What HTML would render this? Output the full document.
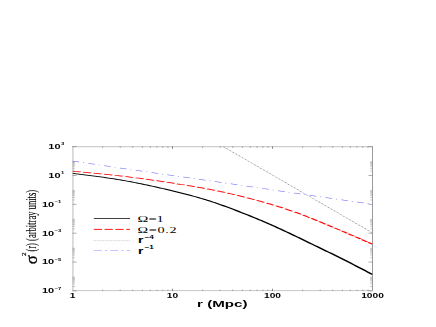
<!DOCTYPE html>
<html><head><meta charset="utf-8"><style>
html,body{margin:0;padding:0;background:#fff;}
svg{display:block}
text{font-family:"Liberation Sans",sans-serif;}
.s{font-family:"Liberation Serif",serif;}
</style></head><body>
<svg width="436" height="327" viewBox="0 0 436 327">
<rect width="436" height="327" fill="#fff"/>
<line x1="72.9" y1="146.6" x2="72.9" y2="290.5" stroke="#d8d8d8" stroke-width="1.8"/>
<line x1="372.5" y1="146.6" x2="372.5" y2="290.5" stroke="#999" stroke-width="1"/>
<line x1="72" y1="146.7" x2="373" y2="146.7" stroke="#a8a8a8" stroke-width="0.7"/>
<line x1="72" y1="290.6" x2="373" y2="290.6" stroke="#b0b0b0" stroke-width="0.7"/>
<g stroke="#555" stroke-width="0.7"><line x1="172.50" y1="290.90" x2="172.50" y2="288.70"/><line x1="172.50" y1="146.40" x2="172.50" y2="148.80"/><line x1="272.50" y1="290.90" x2="272.50" y2="288.70"/><line x1="272.50" y1="146.40" x2="272.50" y2="148.80"/></g>
<g stroke="#666" stroke-width="0.6"><line x1="102.60" y1="290.90" x2="102.60" y2="289.70"/><line x1="102.60" y1="146.40" x2="102.60" y2="147.80"/><line x1="120.21" y1="290.90" x2="120.21" y2="289.70"/><line x1="120.21" y1="146.40" x2="120.21" y2="147.80"/><line x1="132.71" y1="290.90" x2="132.71" y2="289.70"/><line x1="132.71" y1="146.40" x2="132.71" y2="147.80"/><line x1="142.40" y1="290.90" x2="142.40" y2="289.70"/><line x1="142.40" y1="146.40" x2="142.40" y2="147.80"/><line x1="150.32" y1="290.90" x2="150.32" y2="289.70"/><line x1="150.32" y1="146.40" x2="150.32" y2="147.80"/><line x1="157.01" y1="290.90" x2="157.01" y2="289.70"/><line x1="157.01" y1="146.40" x2="157.01" y2="147.80"/><line x1="162.81" y1="290.90" x2="162.81" y2="289.70"/><line x1="162.81" y1="146.40" x2="162.81" y2="147.80"/><line x1="167.92" y1="290.90" x2="167.92" y2="289.70"/><line x1="167.92" y1="146.40" x2="167.92" y2="147.80"/><line x1="202.60" y1="290.90" x2="202.60" y2="289.70"/><line x1="202.60" y1="146.40" x2="202.60" y2="147.80"/><line x1="220.21" y1="290.90" x2="220.21" y2="289.70"/><line x1="220.21" y1="146.40" x2="220.21" y2="147.80"/><line x1="232.71" y1="290.90" x2="232.71" y2="289.70"/><line x1="232.71" y1="146.40" x2="232.71" y2="147.80"/><line x1="242.40" y1="290.90" x2="242.40" y2="289.70"/><line x1="242.40" y1="146.40" x2="242.40" y2="147.80"/><line x1="250.32" y1="290.90" x2="250.32" y2="289.70"/><line x1="250.32" y1="146.40" x2="250.32" y2="147.80"/><line x1="257.01" y1="290.90" x2="257.01" y2="289.70"/><line x1="257.01" y1="146.40" x2="257.01" y2="147.80"/><line x1="262.81" y1="290.90" x2="262.81" y2="289.70"/><line x1="262.81" y1="146.40" x2="262.81" y2="147.80"/><line x1="267.92" y1="290.90" x2="267.92" y2="289.70"/><line x1="267.92" y1="146.40" x2="267.92" y2="147.80"/><line x1="302.60" y1="290.90" x2="302.60" y2="289.70"/><line x1="302.60" y1="146.40" x2="302.60" y2="147.80"/><line x1="320.21" y1="290.90" x2="320.21" y2="289.70"/><line x1="320.21" y1="146.40" x2="320.21" y2="147.80"/><line x1="332.71" y1="290.90" x2="332.71" y2="289.70"/><line x1="332.71" y1="146.40" x2="332.71" y2="147.80"/><line x1="342.40" y1="290.90" x2="342.40" y2="289.70"/><line x1="342.40" y1="146.40" x2="342.40" y2="147.80"/><line x1="350.32" y1="290.90" x2="350.32" y2="289.70"/><line x1="350.32" y1="146.40" x2="350.32" y2="147.80"/><line x1="357.01" y1="290.90" x2="357.01" y2="289.70"/><line x1="357.01" y1="146.40" x2="357.01" y2="147.80"/><line x1="362.81" y1="290.90" x2="362.81" y2="289.70"/><line x1="362.81" y1="146.40" x2="362.81" y2="147.80"/><line x1="367.92" y1="290.90" x2="367.92" y2="289.70"/><line x1="367.92" y1="146.40" x2="367.92" y2="147.80"/></g>
<g stroke="#777" stroke-width="0.6"><line x1="72.50" y1="290.88" x2="76.50" y2="290.88"/><line x1="372.50" y1="290.88" x2="368.50" y2="290.88"/><line x1="72.50" y1="262.03" x2="76.50" y2="262.03"/><line x1="372.50" y1="262.03" x2="368.50" y2="262.03"/><line x1="72.50" y1="233.19" x2="76.50" y2="233.19"/><line x1="372.50" y1="233.19" x2="368.50" y2="233.19"/><line x1="72.50" y1="204.34" x2="76.50" y2="204.34"/><line x1="372.50" y1="204.34" x2="368.50" y2="204.34"/><line x1="72.50" y1="175.50" x2="76.50" y2="175.50"/><line x1="372.50" y1="175.50" x2="368.50" y2="175.50"/><line x1="72.50" y1="146.65" x2="76.50" y2="146.65"/><line x1="372.50" y1="146.65" x2="368.50" y2="146.65"/></g>
<g stroke="#999" stroke-width="0.5"><line x1="72.50" y1="286.54" x2="74.90" y2="286.54"/><line x1="372.50" y1="286.54" x2="370.10" y2="286.54"/><line x1="72.50" y1="284.00" x2="74.90" y2="284.00"/><line x1="372.50" y1="284.00" x2="370.10" y2="284.00"/><line x1="72.50" y1="282.20" x2="74.90" y2="282.20"/><line x1="372.50" y1="282.20" x2="370.10" y2="282.20"/><line x1="72.50" y1="280.80" x2="74.90" y2="280.80"/><line x1="372.50" y1="280.80" x2="370.10" y2="280.80"/><line x1="72.50" y1="279.66" x2="74.90" y2="279.66"/><line x1="372.50" y1="279.66" x2="370.10" y2="279.66"/><line x1="72.50" y1="278.69" x2="74.90" y2="278.69"/><line x1="372.50" y1="278.69" x2="370.10" y2="278.69"/><line x1="72.50" y1="277.85" x2="74.90" y2="277.85"/><line x1="372.50" y1="277.85" x2="370.10" y2="277.85"/><line x1="72.50" y1="277.12" x2="74.90" y2="277.12"/><line x1="372.50" y1="277.12" x2="370.10" y2="277.12"/><line x1="72.50" y1="257.69" x2="74.90" y2="257.69"/><line x1="372.50" y1="257.69" x2="370.10" y2="257.69"/><line x1="72.50" y1="255.15" x2="74.90" y2="255.15"/><line x1="372.50" y1="255.15" x2="370.10" y2="255.15"/><line x1="72.50" y1="253.35" x2="74.90" y2="253.35"/><line x1="372.50" y1="253.35" x2="370.10" y2="253.35"/><line x1="72.50" y1="251.95" x2="74.90" y2="251.95"/><line x1="372.50" y1="251.95" x2="370.10" y2="251.95"/><line x1="72.50" y1="250.81" x2="74.90" y2="250.81"/><line x1="372.50" y1="250.81" x2="370.10" y2="250.81"/><line x1="72.50" y1="249.85" x2="74.90" y2="249.85"/><line x1="372.50" y1="249.85" x2="370.10" y2="249.85"/><line x1="72.50" y1="249.01" x2="74.90" y2="249.01"/><line x1="372.50" y1="249.01" x2="370.10" y2="249.01"/><line x1="72.50" y1="248.27" x2="74.90" y2="248.27"/><line x1="372.50" y1="248.27" x2="370.10" y2="248.27"/><line x1="72.50" y1="228.85" x2="74.90" y2="228.85"/><line x1="372.50" y1="228.85" x2="370.10" y2="228.85"/><line x1="72.50" y1="226.31" x2="74.90" y2="226.31"/><line x1="372.50" y1="226.31" x2="370.10" y2="226.31"/><line x1="72.50" y1="224.50" x2="74.90" y2="224.50"/><line x1="372.50" y1="224.50" x2="370.10" y2="224.50"/><line x1="72.50" y1="223.11" x2="74.90" y2="223.11"/><line x1="372.50" y1="223.11" x2="370.10" y2="223.11"/><line x1="72.50" y1="221.96" x2="74.90" y2="221.96"/><line x1="372.50" y1="221.96" x2="370.10" y2="221.96"/><line x1="72.50" y1="221.00" x2="74.90" y2="221.00"/><line x1="372.50" y1="221.00" x2="370.10" y2="221.00"/><line x1="72.50" y1="220.16" x2="74.90" y2="220.16"/><line x1="372.50" y1="220.16" x2="370.10" y2="220.16"/><line x1="72.50" y1="219.42" x2="74.90" y2="219.42"/><line x1="372.50" y1="219.42" x2="370.10" y2="219.42"/><line x1="72.50" y1="200.00" x2="74.90" y2="200.00"/><line x1="372.50" y1="200.00" x2="370.10" y2="200.00"/><line x1="72.50" y1="197.46" x2="74.90" y2="197.46"/><line x1="372.50" y1="197.46" x2="370.10" y2="197.46"/><line x1="72.50" y1="195.66" x2="74.90" y2="195.66"/><line x1="372.50" y1="195.66" x2="370.10" y2="195.66"/><line x1="72.50" y1="194.26" x2="74.90" y2="194.26"/><line x1="372.50" y1="194.26" x2="370.10" y2="194.26"/><line x1="72.50" y1="193.12" x2="74.90" y2="193.12"/><line x1="372.50" y1="193.12" x2="370.10" y2="193.12"/><line x1="72.50" y1="192.15" x2="74.90" y2="192.15"/><line x1="372.50" y1="192.15" x2="370.10" y2="192.15"/><line x1="72.50" y1="191.32" x2="74.90" y2="191.32"/><line x1="372.50" y1="191.32" x2="370.10" y2="191.32"/><line x1="72.50" y1="190.58" x2="74.90" y2="190.58"/><line x1="372.50" y1="190.58" x2="370.10" y2="190.58"/><line x1="72.50" y1="171.15" x2="74.90" y2="171.15"/><line x1="372.50" y1="171.15" x2="370.10" y2="171.15"/><line x1="72.50" y1="168.61" x2="74.90" y2="168.61"/><line x1="372.50" y1="168.61" x2="370.10" y2="168.61"/><line x1="72.50" y1="166.81" x2="74.90" y2="166.81"/><line x1="372.50" y1="166.81" x2="370.10" y2="166.81"/><line x1="72.50" y1="165.41" x2="74.90" y2="165.41"/><line x1="372.50" y1="165.41" x2="370.10" y2="165.41"/><line x1="72.50" y1="164.27" x2="74.90" y2="164.27"/><line x1="372.50" y1="164.27" x2="370.10" y2="164.27"/><line x1="72.50" y1="163.31" x2="74.90" y2="163.31"/><line x1="372.50" y1="163.31" x2="370.10" y2="163.31"/><line x1="72.50" y1="162.47" x2="74.90" y2="162.47"/><line x1="372.50" y1="162.47" x2="370.10" y2="162.47"/><line x1="72.50" y1="161.73" x2="74.90" y2="161.73"/><line x1="372.50" y1="161.73" x2="370.10" y2="161.73"/></g>
<clipPath id="c"><rect x="72.5" y="146.6" width="300.0" height="144.9"/></clipPath>
<g clip-path="url(#c)" fill="none"><g transform="scale(3.2,1)">
<path d="M69.781,146.6 L116.406,232.9" stroke="#bbb" stroke-width="0.22"/>
<path d="M69.781,146.6 L116.406,232.9" stroke="#777" stroke-width="0.34" stroke-dasharray="0.55 1.467" stroke-dashoffset="-0.25"/>
<path d="M22.656,161.1 L116.406,204.3" stroke="#7070ff" stroke-width="0.55" stroke-dasharray="2.28 1.35 0.33 1.48"/>
<path d="M22.656,171.20 L23.175,171.35 L23.694,171.50 L24.212,171.66 L24.731,171.81 L25.250,171.96 M25.969,172.17 L26.481,172.32 L26.994,172.48 L27.506,172.63 L28.019,172.78 L28.531,172.94 M29.250,173.16 L29.762,173.32 L30.275,173.48 L30.787,173.64 L31.300,173.80 L31.812,173.96 M32.531,174.19 L33.050,174.36 L33.569,174.53 L34.087,174.71 L34.606,174.88 L35.125,175.06 M35.844,175.31 L36.356,175.49 L36.869,175.67 L37.381,175.86 L37.894,176.04 L38.406,176.23 M39.125,176.50 L39.631,176.70 L40.137,176.90 L40.644,177.10 L41.150,177.30 L41.656,177.50 M42.375,177.80 L42.881,178.01 L43.387,178.22 L43.894,178.44 L44.400,178.66 L44.906,178.88 M45.625,179.20 L46.131,179.42 L46.638,179.65 L47.144,179.88 L47.650,180.11 L48.156,180.35 M48.875,180.68 L49.375,180.91 L49.875,181.15 L50.375,181.39 L50.875,181.63 L51.375,181.87 M52.094,182.22 L52.587,182.46 L53.081,182.70 L53.575,182.95 L54.069,183.19 L54.562,183.44 M55.281,183.80 L55.769,184.04 L56.256,184.29 L56.744,184.53 L57.231,184.78 L57.719,185.03 M58.438,185.40 L58.925,185.65 L59.413,185.90 L59.900,186.16 L60.387,186.42 L60.875,186.68 M61.594,187.07 L62.075,187.33 L62.556,187.60 L63.037,187.87 L63.519,188.14 L64.000,188.42 M64.719,188.85 L65.206,189.14 L65.694,189.44 L66.181,189.75 L66.669,190.06 L67.156,190.37 M67.875,190.84 L68.362,191.17 L68.850,191.50 L69.337,191.84 L69.825,192.18 L70.312,192.52 M71.031,193.04 L71.494,193.37 L71.956,193.71 L72.419,194.06 L72.881,194.40 L73.344,194.75 M74.062,195.30 L74.544,195.67 L75.025,196.05 L75.506,196.42 L75.987,196.80 L76.469,197.19 M77.188,197.77 L77.656,198.15 L78.125,198.54 L78.594,198.93 L79.062,199.32 L79.531,199.72 M80.250,200.33 L80.713,200.73 L81.175,201.14 L81.638,201.55 L82.100,201.96 L82.562,202.37 M83.281,203.03 L83.725,203.44 L84.169,203.85 L84.612,204.27 L85.056,204.69 L85.500,205.11 M86.219,205.81 L86.656,206.25 L87.093,206.68 L87.530,207.12 L87.967,207.57 L88.404,208.02 M89.094,208.74 L89.534,209.21 L89.974,209.69 L90.414,210.17 L90.854,210.66 L91.294,211.15 M91.937,211.88 L92.362,212.37 L92.786,212.87 L93.210,213.37 L93.634,213.87 L94.058,214.38 M94.656,215.11 L95.064,215.61 L95.472,216.11 L95.880,216.62 L96.288,217.13 L96.696,217.65 M97.250,218.35 L97.635,218.84 L98.020,219.33 L98.405,219.83 L98.790,220.33 L99.175,220.83 M99.688,221.49 L100.099,222.03 L100.510,222.57 L100.922,223.11 L101.334,223.65 L101.745,224.19 M102.219,224.82 L102.587,225.30 L102.955,225.79 L103.323,226.28 L103.691,226.77 L104.059,227.26 M104.500,227.85 L104.874,228.36 L105.247,228.86 L105.621,229.36 L105.995,229.87 L106.369,230.37 M106.781,230.93 L107.117,231.39 L107.453,231.84 L107.788,232.30 L108.124,232.76 L108.460,233.22 M108.844,233.74 L109.191,234.22 L109.538,234.69 L109.885,235.17 L110.232,235.65 L110.579,236.13 M110.938,236.62 L111.284,237.10 L111.630,237.58 L111.976,238.05 L112.322,238.53 L112.668,239.01 M113.000,239.47 L113.350,239.96 L113.700,240.44 L114.050,240.93 L114.400,241.41 L114.750,241.90 M115.062,242.33 L115.331,242.71 L115.600,243.08 L115.869,243.45 L116.137,243.83 L116.406,244.20 " stroke="#ff0000" stroke-width="0.76"/>
<path d="M22.656,173.30 L23.281,173.55 L23.906,173.80 L24.531,174.05 L25.156,174.30 L25.781,174.55 L26.406,174.80 L27.031,175.06 L27.656,175.31 L28.281,175.57 L28.906,175.83 L29.531,176.10 L30.156,176.37 L30.781,176.64 L31.406,176.92 L32.031,177.20 L32.656,177.48 L33.281,177.77 L33.906,178.06 L34.531,178.36 L35.156,178.67 L35.781,178.98 L36.406,179.30 L37.031,179.63 L37.656,179.96 L38.281,180.30 L38.906,180.65 L39.531,181.00 L40.156,181.36 L40.781,181.73 L41.406,182.11 L42.031,182.50 L42.656,182.89 L43.281,183.29 L43.906,183.70 L44.531,184.11 L45.156,184.53 L45.781,184.95 L46.406,185.38 L47.031,185.81 L47.656,186.25 L48.281,186.69 L48.906,187.13 L49.531,187.58 L50.156,188.04 L50.781,188.50 L51.406,188.96 L52.031,189.43 L52.656,189.90 L53.281,190.37 L53.906,190.85 L54.531,191.34 L55.156,191.83 L55.781,192.32 L56.406,192.82 L57.031,193.33 L57.656,193.84 L58.281,194.35 L58.906,194.88 L59.531,195.41 L60.156,195.95 L60.781,196.49 L61.406,197.05 L62.031,197.62 L62.656,198.19 L63.281,198.78 L63.906,199.38 L64.531,200.00 L65.156,200.62 L65.781,201.26 L66.406,201.92 L67.031,202.58 L67.656,203.26 L68.281,203.96 L68.906,204.66 L69.531,205.37 L70.156,206.10 L70.781,206.83 L71.406,207.57 L72.031,208.32 L72.656,209.08 L73.281,209.84 L73.906,210.61 L74.531,211.38 L75.156,212.16 L75.781,212.94 L76.406,213.73 L77.031,214.52 L77.656,215.32 L78.281,216.12 L78.906,216.94 L79.531,217.75 L80.156,218.58 L80.781,219.41 L81.406,220.25 L82.031,221.09 L82.656,221.95 L83.281,222.81 L83.906,223.68 L84.531,224.56 L85.156,225.44 L85.781,226.34 L86.406,227.24 L87.031,228.16 L87.656,229.07 L88.281,230.00 L88.906,230.93 L89.531,231.87 L90.156,232.81 L90.781,233.76 L91.406,234.71 L92.031,235.67 L92.656,236.63 L93.281,237.59 L93.906,238.56 L94.531,239.53 L95.156,240.50 L95.781,241.47 L96.406,242.44 L97.031,243.42 L97.656,244.39 L98.281,245.36 L98.906,246.34 L99.531,247.31 L100.156,248.27 L100.781,249.24 L101.406,250.21 L102.031,251.17 L102.656,252.13 L103.281,253.10 L103.906,254.07 L104.531,255.05 L105.156,256.03 L105.781,257.02 L106.406,258.02 L107.031,259.02 L107.656,260.03 L108.281,261.04 L108.906,262.06 L109.531,263.08 L110.156,264.10 L110.781,265.13 L111.406,266.17 L112.031,267.20 L112.656,268.24 L113.281,269.28 L113.906,270.32 L114.531,271.36 L115.156,272.41 L115.781,273.45 L116.406,274.50" stroke="#000" stroke-width="0.85"/>
</g></g>
<g font-weight="bold" fill="#000" opacity="0.999">
<text transform="translate(48.3,149.05) scale(1.62,1)" text-anchor="start" font-size="6.8">10<tspan dy="-3.6" dx="0.3" font-size="3.7">3</tspan></text><text transform="translate(48.3,177.89600000000002) scale(1.62,1)" text-anchor="start" font-size="6.8">10<tspan dy="-3.6" dx="0.3" font-size="3.7">1</tspan></text><text transform="translate(41.9,206.74200000000002) scale(1.62,1)" text-anchor="start" font-size="6.8">10<tspan dy="-3.6" dx="0.3" font-size="3.7">−1</tspan></text><text transform="translate(41.9,235.588) scale(1.62,1)" text-anchor="start" font-size="6.8">10<tspan dy="-3.6" dx="0.3" font-size="3.7">−3</tspan></text><text transform="translate(41.9,264.43399999999997) scale(1.62,1)" text-anchor="start" font-size="6.8">10<tspan dy="-3.6" dx="0.3" font-size="3.7">−5</tspan></text><text transform="translate(41.9,293.28) scale(1.62,1)" text-anchor="start" font-size="6.8">10<tspan dy="-3.6" dx="0.3" font-size="3.7">−7</tspan></text><text transform="translate(72.5,297.6) scale(1.5,1)" text-anchor="middle" font-size="6.8">1</text><text transform="translate(172.5,297.6) scale(1.5,1)" text-anchor="middle" font-size="6.8">10</text><text transform="translate(272.5,297.6) scale(1.5,1)" text-anchor="middle" font-size="6.8">100</text><text transform="translate(372.5,297.6) scale(1.5,1)" text-anchor="middle" font-size="6.8">1000</text>
<text transform="translate(222.3,307) scale(1.78,1)" text-anchor="middle" font-size="8.5">r (Mpc)</text>
</g>
<g fill="none">
<line x1="93.8" y1="218.5" x2="130.1" y2="218.5" stroke="#383838" stroke-width="0.95"/>
<line x1="93.8" y1="229.4" x2="130.1" y2="229.4" stroke="#f00" stroke-width="0.9" stroke-dasharray="8.2 2.6"/>
<line x1="93.8" y1="240.6" x2="130.1" y2="240.6" stroke="#999" stroke-width="0.5" stroke-dasharray="0.8 0.8"/>
<line x1="93.8" y1="250.5" x2="130.1" y2="250.5" stroke="#a0a0ff" stroke-width="0.6" stroke-dasharray="8 3.1 2.2 3.1"/>
</g>
<g fill="#000" opacity="0.999" font-size="8.8">
<text class="s" transform="translate(137.6,221.8) scale(1.65,1)">Ω=1</text>
<text class="s" transform="translate(137.6,232.8) scale(1.62,1)" letter-spacing="0.4">Ω=0.2</text>
</g>
<g font-weight="bold" font-size="9.5" fill="#000" opacity="0.999">
<text transform="translate(138,242.9) scale(1.45,1)">r<tspan dy="-4.3" dx="0.8" font-size="5.6">−4</tspan></text>
<text transform="translate(138,253.6) scale(1.45,1)">r<tspan dy="-4.3" dx="0.8" font-size="5.6">−1</tspan></text>
</g>
<g style="filter:grayscale(1)" fill="#000">
<text class="s" transform="translate(36.7,264.2) rotate(-90) scale(1,1.05)" font-size="16.8" stroke="#000" stroke-width="0.35">σ</text>
<text class="s" transform="translate(26.1,255.9) rotate(-90) scale(1,0.92)" font-size="7" stroke="#000" stroke-width="0.2">2</text>
<text class="s" transform="translate(36,251.6) rotate(-90) scale(1,1.62)" font-size="8.55" stroke="#000" stroke-width="0.06">(r) (arbitray units)</text></g>
</svg>
</body></html>
